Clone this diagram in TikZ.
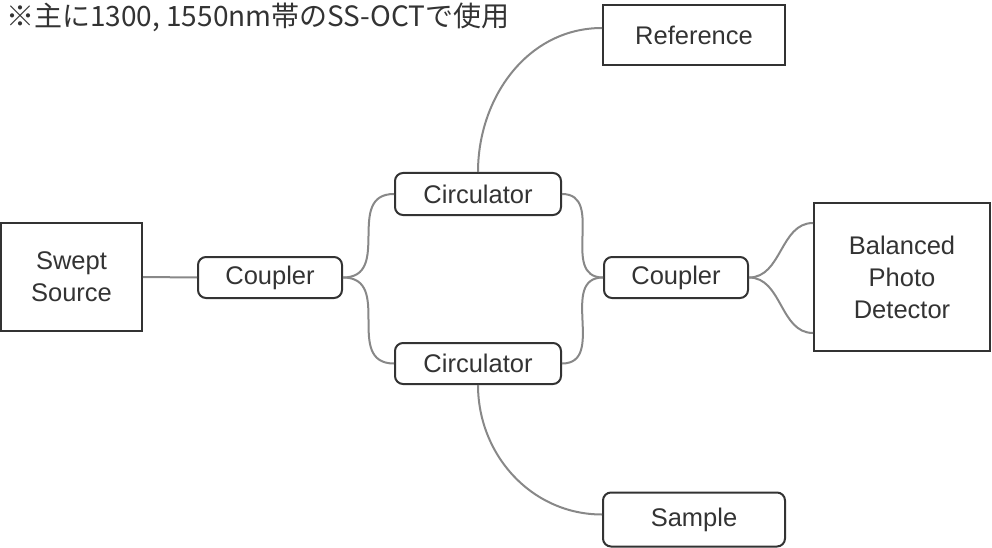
\documentclass[tikz,border=0pt]{standalone}
\usepackage{fontspec}
\setmainfont{Liberation Sans}
\newfontfamily\jpfont{Noto Sans CJK JP}
\definecolor{txt}{HTML}{333333}
\definecolor{wire}{HTML}{888888}

\begin{document}
\begin{tikzpicture}[x=1pt,y=1pt,
  every node/.style={inner sep=0pt,text=txt,align=center,
    font=\fontsize{25.5}{32}\selectfont},
  sq/.style={draw=txt,line width=2pt},
  rd/.style={draw=txt,line width=2pt,rounded corners=8pt},
  link/.style={draw=wire,line width=2pt}]
\useasboundingbox (0,0) rectangle (992,-548);
\node[anchor=west,font=\jpfont\fontsize{28}{32}\selectfont] (note) at (6,-17) {※主に1300, 1550nm帯のSS-OCTで使用};
\node[sq,minimum width=141pt,minimum height=108pt] (src) at (71.5,-277) {Swept\\Source};
\node[rd,minimum width=144pt,minimum height=41pt] (cpla) at (270,-277.5) {Coupler};
\node[rd,minimum width=166pt,minimum height=42pt] (circa) at (478,-194) {Circulator};
\node[rd,minimum width=166pt,minimum height=41pt] (circb) at (478,-363.5) {Circulator};
\node[sq,minimum width=182pt,minimum height=60pt] (ref) at (694,-35) {Reference};
\node[rd,minimum width=144pt,minimum height=41pt] (cplb) at (676,-277.5) {Coupler};
\node[sq,minimum width=176pt,minimum height=148pt] (bpd) at (902,-277) {Balanced\\Photo\\Detector};
\node[rd,minimum width=182pt,minimum height=54pt] (smp) at (694,-519.5) {Sample};
\draw[link] (src.east)--(cpla.west);
\draw[link] (cpla.east) to[out=0,in=180,looseness=1.3] (circa.west);
\draw[link] (cpla.east) to[out=0,in=180,looseness=1.3] (circb.west);
\draw[link] (circa.east) to[out=0,in=180,looseness=1.2] (cplb.west);
\draw[link] (circb.east) to[out=0,in=180,looseness=1.2] (cplb.west);
\draw[link] (circa.north) to[out=90,in=180] ([yshift=7pt]ref.west);
\draw[link] (circb.south) to[out=-90,in=180] ([yshift=5pt]smp.west);
\draw[link] (cplb.east) to[out=0,in=180] ([yshift=54pt]bpd.west);
\draw[link] (cplb.east) to[out=0,in=180] ([yshift=-56pt]bpd.west);
\end{tikzpicture}
\end{document}
